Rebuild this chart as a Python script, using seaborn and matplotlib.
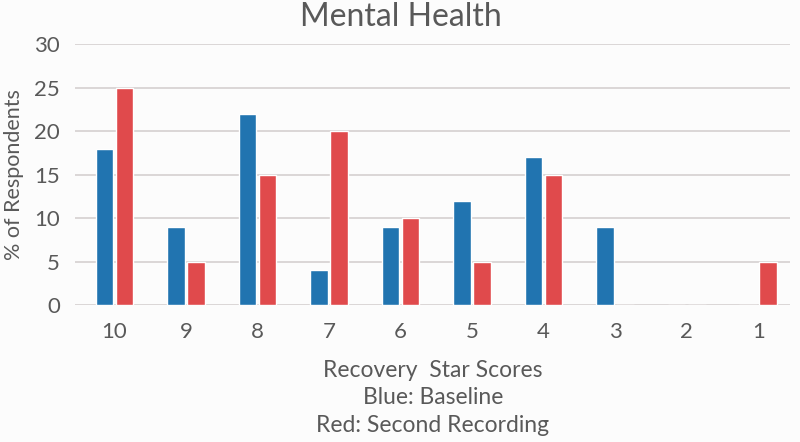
import seaborn as sns
import pandas as pd
import matplotlib.pyplot as plt

# Recovery Star scores, highest first
scores = ["10", "9", "8", "7", "6", "5", "4", "3", "2", "1"]
baseline = [18, 9, 22, 4, 9, 12, 17, 9, 0, 0]
second = [25, 5, 15, 20, 10, 5, 15, 0, 0, 5]

df = pd.DataFrame({
    "score": scores * 2,
    "pct": baseline + second,
    "recording": ["Baseline"] * len(scores) + ["Second"] * len(scores),
})

sns.set_style("white")
plt.rcParams["font.family"] = ["Lato", "DejaVu Sans"]
text_col = "#595959"

fig = plt.figure(figsize=(8, 4.42), dpi=100)
fig.patch.set_facecolor("#FCFCFC")
ax = fig.add_axes([0.094, 0.31, 0.894, 0.59])
ax.set_facecolor("#FCFCFC")

sns.barplot(data=df, x="score", y="pct", hue="recording", order=scores,
            palette={"Baseline": "#2174B0", "Second": "#E04A4C"},
            width=0.56, gap=0.12, legend=False, ax=ax, saturation=1)

ax.set_ylim(0, 30)
ax.set_yticks(range(0, 31, 5))
ax.set_xlim(-0.55, 9.45)
ax.yaxis.grid(True, color="#D5D0D0", linewidth=1.2)
ax.set_axisbelow(True)
for s in ax.spines.values():
    s.set_visible(False)
ax.tick_params(axis="both", length=0, labelsize=16, colors=text_col)
ax.tick_params(axis="x", pad=12)
ax.tick_params(axis="y", pad=11)

# title sits over the figure centre, not the axes centre
ax.set_title("Mental Health", fontsize=23, color=text_col, pad=13, x=0.455)
ax.set_ylabel("% of Respondents", fontsize=15.5, color=text_col, labelpad=7)
ax.set_xlabel("Recovery  Star Scores\nBlue: Baseline\nRed: Second Recording",
              fontsize=16.5, color=text_col, labelpad=13, linespacing=1.38)

fig.savefig("out.png", dpi=100, facecolor=fig.get_facecolor())
